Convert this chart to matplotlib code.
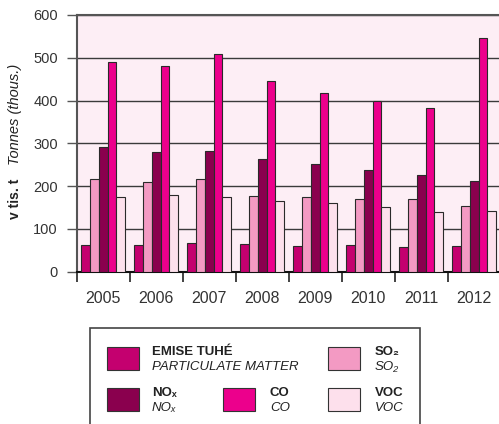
import numpy as np
import matplotlib
matplotlib.use("Agg")
import matplotlib.pyplot as plt
import matplotlib.patches as patches

plt.rcParams['font.family'] = ['Liberation Sans', 'DejaVu Sans']

years = ['2005', '2006', '2007', '2008', '2009', '2010', '2011', '2012']
pm = [61.6, 62.3, 66.2, 64.0, 60.0, 62.3, 56.9, 59.2]
so2 = [216.6, 210.4, 215.8, 176.0, 173.8, 169.0, 169.9, 153.5]
nox = [290.6, 279.7, 282.9, 264.0, 251.7, 237.7, 225.2, 211.2]
co = [491.0, 481.6, 508.0, 445.0, 418.4, 398.2, 381.8, 545.5]
voc = [174.5, 178.4, 173.8, 164.4, 159.7, 150.4, 138.7, 141.8]

series = [pm, so2, nox, co, voc]
colors = ['#c4006f', '#f39ac3', '#8a004e', '#ec008c', '#fde0ec']

W, H = 499, 424
fig = plt.figure(figsize=(W / 100, H / 100), dpi=100)

def fx(px):
    return px / W

def fy(py):
    return 1 - py / H

ax = fig.add_axes([fx(76.7), fy(271.7), fx(500.7) - fx(76.7), fy(15) - fy(271.7)])
ax.set_facecolor('#fdeef5')

bw = 8.75 / 53
off = 4.6 / 53
x = np.arange(len(years))
for k, (vals, c) in enumerate(zip(series, colors)):
    # faint shadow then the bar
    ax.bar(x + off + bw * (k + 0.5) + 0.01, vals, width=bw, color='#bbbbbb',
           linewidth=0, zorder=2)
    ax.bar(x + off + bw * (k + 0.5), vals, width=bw, color=c,
           edgecolor='#2a2a2a', linewidth=0.8, zorder=3)

ax.set_xlim(0, len(years))
ax.set_ylim(0, 600)
ax.set_yticks(np.arange(0, 601, 100))
ax.yaxis.grid(True, color='#3a3a3a', linewidth=1.0, zorder=1)
ax.set_axisbelow(True)

ax.set_xticks(np.arange(len(years) + 1))
ax.set_xticklabels([])
ax.set_xticks(x + 0.5, minor=True)
ax.set_xticklabels(years, minor=True, fontsize=11.5, color='#333333')
ax.tick_params(axis='x', which='major', direction='out', length=7.5, width=1.2, color='#222222')
ax.tick_params(axis='x', which='minor', length=0, pad=14)
ax.tick_params(axis='y', direction='out', length=7.5, width=1.0, color='#555555',
               labelsize=10.5, labelcolor='#333333', pad=6)

for s in ['top', 'left']:
    ax.spines[s].set_color('#555555')
    ax.spines[s].set_linewidth(1.5)
ax.spines['bottom'].set_color('#111111')
ax.spines['bottom'].set_linewidth(1.5)
ax.spines['right'].set_visible(False)

fig.text(fx(15), fy(199), 'v tis. t', rotation=90, ha='center', va='center',
         fontsize=10, fontweight='bold', color='#222222')
fig.text(fx(15), fy(114.5), 'Tonnes (thous.)', rotation=90, ha='center', va='center',
         fontsize=10.5, style='italic', color='#222222')

# legend box
fig.add_artist(patches.Rectangle((fx(90), fy(432)), fx(420) - fx(90), fy(328) - fy(432),
                                 transform=fig.transFigure, facecolor='white',
                                 edgecolor='#444444', linewidth=1.2))

legend_items = [
    (colors[0], 106.7, 347, 'EMISE TUHÉ', 'PARTICULATE MATTER', 151.7),
    (colors[1], 328, 347, 'SO₂', 'SO₂', 375),
    (colors[2], 106.7, 388, 'NOₓ', 'NOₓ', 151.7),
    (colors[3], 223, 388, 'CO', 'CO', 270),
    (colors[4], 328, 388, 'VOC', 'VOC', 375),
]
for c, sx, sy, t1, t2, tx in legend_items:
    fig.add_artist(patches.Rectangle((fx(sx + 1), fy(sy + 24)), fx(32), fy(0) - fy(23),
                                     transform=fig.transFigure, facecolor='#bbbbbb',
                                     edgecolor='none'))
    fig.add_artist(patches.Rectangle((fx(sx), fy(sy + 23)), fx(32), fy(0) - fy(23),
                                     transform=fig.transFigure, facecolor=c,
                                     edgecolor='#333333', linewidth=0.8))
    fig.text(fx(tx), fy(sy + 5), t1, ha='left', va='center', fontsize=9.5,
             fontweight='bold', color='#222222')
    fig.text(fx(tx), fy(sy + 20), t2, ha='left', va='center', fontsize=9.5,
             style='italic', color='#222222')

fig.savefig('out.png', dpi=100)
